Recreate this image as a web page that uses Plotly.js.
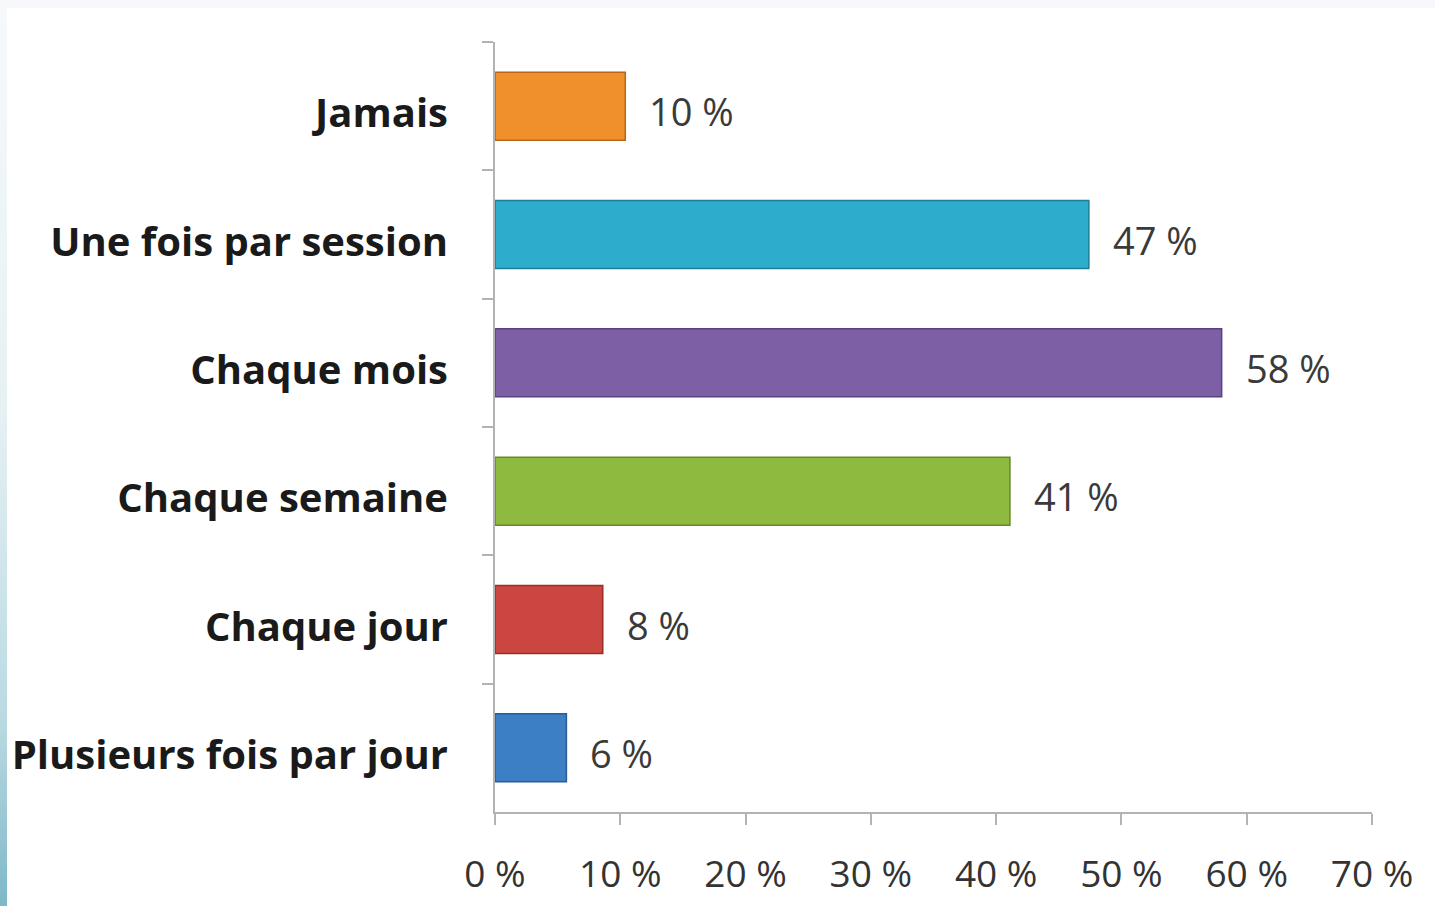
<!DOCTYPE html>
<html>
<head>
<meta charset="utf-8">
<script src="https://cdn.plot.ly/plotly-3.0.1.min.js"></script>
<style>
  html, body { margin: 0; padding: 0; }
  body {
    width: 1435px; height: 906px; overflow: hidden; position: relative;
    background: linear-gradient(to bottom, #f6f9fb 0%, #e6f1f4 45%, #b9d9e2 80%, #7db8c8 100%);
  }
  #topstrip { position: absolute; left: 0; top: 0; width: 1435px; height: 8px; background: #f6f8fc; }
  #chart { position: absolute; left: 7px; top: 8px; width: 1428px; height: 898px; background: #ffffff; }
</style>
</head>
<body>
<div id="topstrip"></div>
<div id="chart"></div>
<script>
// Categories, top to bottom
const categories = ["Jamais", "Une fois par session", "Chaque mois", "Chaque semaine", "Chaque jour", "Plusieurs fois par jour"];
// Values (%)
const values = [10.4, 47.4, 58.0, 41.1, 8.6, 5.7];
// Data labels as printed
const valueLabels = ["10 %", "47 %", "58 %", "41 %", "8 %", "6 %"];
// Bar colours
const barColors = ["#f0902c", "#2eaccb", "#7d5fa6", "#8fba40", "#cc4641", "#3d7fc4"];
const barEdges = ["#b8661a", "#1c7e98", "#5a4180", "#658a26", "#943027", "#285c95"];
// X ticks
const xTicks = [0, 10, 20, 30, 40, 50, 60, 70];
const xTickLabels = ["0 %", "10 %", "20 %", "30 %", "40 %", "50 %", "60 %", "70 %"];

const trace = {
  type: "bar",
  orientation: "h",
  y: categories,
  x: values,
  width: 0.53,
  marker: { color: barColors, line: { color: barEdges, width: 1.5 } },
  hoverinfo: "none"
};

const annotations = categories.map((c, i) => ({
  x: values[i], y: c, xref: "x", yref: "y",
  text: valueLabels[i], showarrow: false,
  xanchor: "left", yanchor: "middle", xshift: 22, yshift: -5,
  font: { family: "Open Sans", size: 38, color: "#3a3a3a" }
}));

const layout = {
  width: 1428, height: 898,
  margin: { l: 488, r: 63, t: 34, b: 94 },
  paper_bgcolor: "#ffffff",
  plot_bgcolor: "#ffffff",
  showlegend: false,
  xaxis: {
    range: [0, 70],
    tickmode: "array",
    tickvals: xTicks,
    ticktext: xTickLabels,
    showgrid: false, zeroline: false,
    showline: true, linecolor: "#b3b3b3", linewidth: 2,
    ticks: "outside", ticklen: 11, tickwidth: 2, tickcolor: "#b3b3b3",
    ticklabelstandoff: 18,
    tickfont: { family: "Open Sans", size: 37, color: "#333333" },
    fixedrange: true
  },
  yaxis: {
    type: "category",
    autorange: "reversed",
    showgrid: false, zeroline: false,
    showline: true, linecolor: "#b3b3b3", linewidth: 2,
    ticks: "outside", tickson: "boundaries", ticklen: 11, tickwidth: 2, tickcolor: "#b3b3b3",
    ticklabelstandoff: 37,
    ticklabelshift: -7,
    tickfont: { family: "Open Sans", size: 40, color: "#1a1a1a", weight: "bold" },
    fixedrange: true
  },
  annotations: annotations
};

Plotly.newPlot("chart", [trace], layout, { displayModeBar: false, staticPlot: true });
</script>
</body>
</html>
